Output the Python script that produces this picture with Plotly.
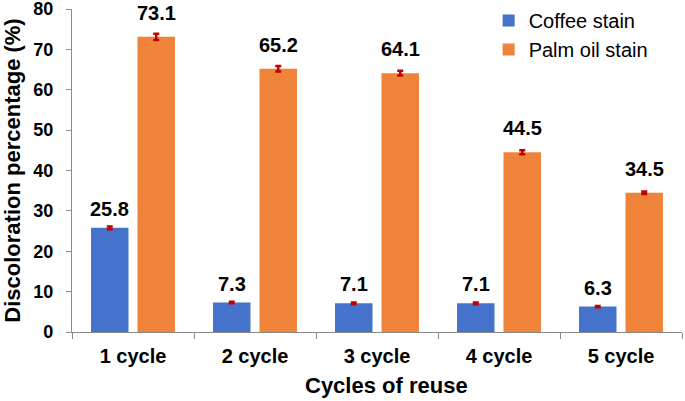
import plotly.graph_objects as go

categories = ["1 cycle", "2 cycle", "3 cycle", "4 cycle", "5 cycle"]
coffee = [25.8, 7.3, 7.1, 7.1, 6.3]
palm = [73.1, 65.2, 64.1, 44.5, 34.5]
coffee_err = [0.35, 0.2, 0.2, 0.2, 0.15]
palm_err = [0.8, 0.7, 0.6, 0.5, 0.3]
yticks = [0, 10, 20, 30, 40, 50, 60, 70, 80]
x_title = "Cycles of reuse"
y_title = "Discoloration percentage (%)"

font_fam = "Liberation Sans, Arial, sans-serif"

W, H = 685, 401
ML, MR, MT, MB = 72, 3, 9, 69
BARGAP, BARGROUPGAP = 0.238, 0.194

fig = go.Figure()
fig.add_trace(go.Bar(
    x=categories, y=coffee, name="Coffee stain",
    marker=dict(color="#4573cb", line=dict(width=0)),
    error_y=dict(type="data", array=coffee_err, color="#c00000", thickness=2.5, width=3),
))
fig.add_trace(go.Bar(
    x=categories, y=palm, name="Palm oil stain",
    marker=dict(color="#f0833a", line=dict(width=0)),
    error_y=dict(type="data", array=palm_err, color="#c00000", thickness=2.5, width=3),
))

# data labels above bars, shifted to each bar's slot within the group
cat_px = (W - ML - MR) / len(categories)
slot_px = cat_px * (1 - BARGAP) / 2
for vals, sign, ys in ((coffee, -1, 6), (palm, 1, 11)):
    for c, v in zip(categories, vals):
        fig.add_annotation(
            x=c, y=v, xref="x", yref="y", text=f"{v}", showarrow=False,
            xshift=sign * slot_px / 2, yshift=ys, yanchor="bottom",
            font=dict(size=20, color="black", family=font_fam, weight="bold"),
        )

# x-axis title (slightly right of the plot centre, as in the reference)
fig.add_annotation(
    x=0.5, y=0, xref="paper", yref="paper", text=x_title, showarrow=False,
    xshift=9, yshift=-53, yanchor="middle", xanchor="center",
    font=dict(size=22, color="black", family=font_fam, weight="bold"),
)

fig.update_layout(
    width=W, height=H,
    margin=dict(l=ML, r=MR, t=MT, b=MB, autoexpand=False),
    paper_bgcolor="white", plot_bgcolor="white",
    barmode="group", bargap=BARGAP, bargroupgap=BARGROUPGAP,
    font=dict(family=font_fam, color="black"),
    showlegend=True,
    legend=dict(x=0.683, y=1.025, xanchor="left", yanchor="top",
                font=dict(size=20, family=font_fam), bgcolor="rgba(0,0,0,0)",
                itemwidth=30, tracegroupgap=6),
)
fig.update_xaxes(
    showline=True, linecolor="#8c8c8c", linewidth=1.2,
    ticks="outside", tickson="boundaries", ticklen=6, tickcolor="#8c8c8c",
    tickfont=dict(size=20, family=font_fam, weight="bold"),
    ticklabelstandoff=6,
    automargin=False,
)
fig.update_yaxes(
    range=[0, 80], tickvals=yticks, showgrid=False, zeroline=False,
    showline=True, linecolor="#8c8c8c", linewidth=1.2,
    ticks="outside", ticklen=5, tickcolor="#8c8c8c",
    tickfont=dict(size=18, family=font_fam, weight="bold"),
    ticklabelstandoff=9, ticklabeloverflow="allow",
    title=dict(text=y_title, font=dict(size=22, family=font_fam, weight="bold"), standoff=6),
    automargin=False,
)

fig.write_html("out.html", config={"displayModeBar": False},
               post_script="document.body.style.margin='0';")
